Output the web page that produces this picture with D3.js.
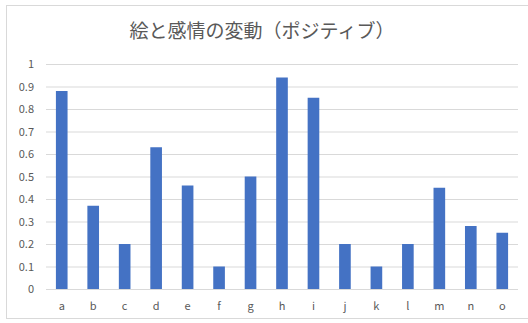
<!DOCTYPE html>
<html>
<head>
<meta charset="utf-8">
<script src="https://cdn.jsdelivr.net/npm/d3@7"></script>
<style>
  html, body { margin: 0; padding: 0; background: #fff; }
  svg { display: block; }
</style>
</head>
<body>
<svg id="chart" width="528" height="323"></svg>
<script>
// Chart data
const categories = ["a","b","c","d","e","f","g","h","i","j","k","l","m","n","o"];
const values = [0.88, 0.37, 0.20, 0.63, 0.46, 0.10, 0.50, 0.94, 0.85, 0.20, 0.10, 0.20, 0.45, 0.28, 0.25];
const yTicks = [0, 0.1, 0.2, 0.3, 0.4, 0.5, 0.6, 0.7, 0.8, 0.9, 1];
const yTickLabels = ["0","0.1","0.2","0.3","0.4","0.5","0.6","0.7","0.8","0.9","1"];
const title = "絵と感情の変動（ポジティブ）";

const svg = d3.select("#chart");
const W = 528, H = 323;
const margin = { left: 46, right: 10, top: 64, bottom: 34 };
const fontFamily = "'Noto Sans CJK JP', 'Noto Sans', sans-serif";
const textColor = "#595959";

// Chart area frame
svg.append("rect")
  .attr("x", 6.5).attr("y", 5.5)
  .attr("width", W + 10).attr("height", 313)
  .attr("fill", "#fff")
  .attr("stroke", "#d9d9d9");

const x = d3.scaleBand()
  .domain(categories)
  .range([margin.left, W - margin.right])
  .paddingInner(0.63)
  .paddingOuter(0.315);

const y = d3.scaleLinear()
  .domain([0, 1])
  .range([H - margin.bottom, margin.top]);

// Gridlines and y labels
const yAxis = d3.axisLeft(y)
  .tickValues(yTicks)
  .tickFormat((d, i) => yTickLabels[i])
  .tickSize(-(W - margin.right - margin.left))
  .tickPadding(12);

const gy = svg.append("g")
  .attr("transform", `translate(${margin.left},0)`)
  .call(yAxis);
gy.select(".domain").remove();
gy.selectAll(".tick line").attr("stroke", "#d9d9d9").attr("stroke-width", 1);
gy.selectAll(".tick text")
  .attr("fill", textColor)
  .style("font-family", fontFamily)
  .style("font-size", "11px");

// x labels
const xAxis = d3.axisBottom(x).tickSize(0).tickPadding(13);
const gx = svg.append("g")
  .attr("transform", `translate(0,${H - margin.bottom})`)
  .call(xAxis);
gx.select(".domain").remove();
gx.selectAll(".tick text")
  .attr("fill", textColor)
  .style("font-family", fontFamily)
  .style("font-size", "11px");

// Bars
svg.append("g")
  .selectAll("rect")
  .data(values)
  .join("rect")
  .attr("x", (d, i) => x(categories[i]))
  .attr("y", d => y(d))
  .attr("width", x.bandwidth())
  .attr("height", d => y(0) - y(d))
  .attr("fill", "#4472C4");

// Title
svg.append("text")
  .attr("x", 262)
  .attr("y", 38)
  .attr("text-anchor", "middle")
  .attr("fill", textColor)
  .style("font-family", fontFamily)
  .style("font-size", "19px")
  .text(title);
</script>
</body>
</html>
